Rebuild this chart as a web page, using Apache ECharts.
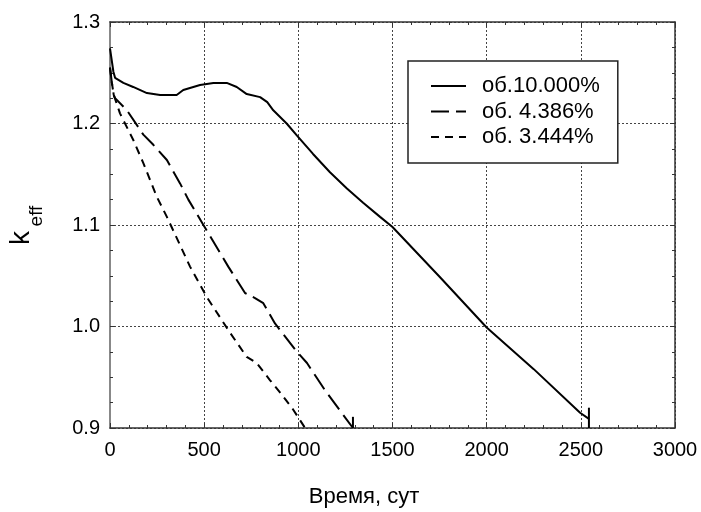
<!DOCTYPE html>
<html>
<head>
<meta charset="utf-8">
<script src="https://cdn.jsdelivr.net/npm/echarts@6/dist/echarts.min.js"></script>
<style>html,body{margin:0;padding:0;background:#fff}#c{width:701px;height:512px}</style>
</head>
<body>
<div id="c"></div>
<script>
// ---- data ----
var names = ['об.10.000%', 'об. 4.386%', 'об. 3.444%'];
var time10 = [0, 18, 27, 71, 123, 196, 266, 354, 389, 478, 549, 620, 673, 726, 797, 835, 867, 938, 993, 1078, 1168, 1258, 1344, 1434, 1500, 1750, 2000, 2250, 2496, 2543];
var k10 = [1.274, 1.251, 1.245, 1.240, 1.236, 1.230, 1.228, 1.228, 1.233, 1.238, 1.240, 1.240, 1.236, 1.229, 1.226, 1.221, 1.213, 1.200, 1.188, 1.170, 1.152, 1.136, 1.122, 1.108, 1.098, 1.049, 0.999, 0.958, 0.915, 0.909];
var time438 = [0, 10, 20, 27, 90, 177, 230, 302, 372, 416, 496, 628, 717, 770, 814, 876, 993, 1046, 1142, 1290];
var k438 = [1.255, 1.240, 1.228, 1.225, 1.213, 1.189, 1.179, 1.164, 1.141, 1.125, 1.100, 1.059, 1.033, 1.028, 1.023, 1.003, 0.975, 0.964, 0.937, 0.900];
var time344 = [0, 10, 20, 53, 123, 177, 248, 302, 425, 514, 637, 726, 779, 850, 912, 973, 1036];
var k344 = [1.255, 1.240, 1.228, 1.210, 1.184, 1.161, 1.128, 1.108, 1.059, 1.029, 0.994, 0.970, 0.964, 0.947, 0.933, 0.918, 0.900];
// end-of-run markers (time, k bottom, k top)
var endTimes = [2543, 1290];
var endBottom = [0.900, 0.900];
var endTop = [0.920, 0.911];
var xTicks = [0, 500, 1000, 1500, 2000, 2500, 3000];
var yTicks = [0.9, 1.0, 1.1, 1.2, 1.3];

function zip(a, b) { return a.map(function (v, i) { return [v, b[i]]; }); }

var FONT = "'Liberation Sans', Arial, sans-serif";
var chart = echarts.init(document.getElementById('c'), null, {renderer: 'canvas'});

function xAx(pos, showLabel) {
  return {
    type: 'value', position: pos, min: xTicks[0], max: xTicks[xTicks.length - 1], interval: 500,
    axisLine: {show: true, onZero: false, lineStyle: {color: '#333', width: 1.5}},
    axisTick: {show: true, inside: true, length: 5, lineStyle: {color: '#333'}},
    minorTick: {show: true, splitNumber: 5, length: 3, lineStyle: {color: '#333'}},
    axisLabel: {show: showLabel, color: '#000', fontSize: 20, fontFamily: FONT, margin: 12,
      formatter: function (v) { return String(v); }},
    splitLine: {show: showLabel, lineStyle: {type: [2, 2], color: '#444', width: 1}},
    minorSplitLine: {show: false}
  };
}
function yAx(pos, showLabel) {
  return {
    type: 'value', position: pos, min: yTicks[0], max: yTicks[yTicks.length - 1], interval: 0.1,
    axisLine: {show: true, onZero: false, lineStyle: {color: pos === 'left' ? '#888' : '#333', width: pos === 'left' ? 2 : 1.5}},
    axisTick: {show: true, inside: true, length: 5, lineStyle: {color: '#333'}},
    minorTick: {show: true, splitNumber: 4, length: 3, lineStyle: {color: '#333'}},
    axisLabel: {show: showLabel, color: '#000', fontSize: 20, fontFamily: FONT, margin: 10,
      formatter: function (v) { return v.toFixed(1); }},
    splitLine: {show: showLabel, lineStyle: {type: [2, 2], color: '#444', width: 1}}
  };
}

var lineBase = {type: 'line', showSymbol: false, symbol: 'none', smooth: false, silent: true, animation: false};
var series = [
  Object.assign({}, lineBase, {name: names[0], data: zip(time10, k10), lineStyle: {color: '#000', width: 2, type: 'solid'}, itemStyle: {color: '#000'}}),
  Object.assign({}, lineBase, {name: names[1], data: zip(time438, k438), lineStyle: {color: '#000', width: 2, type: [18, 7]}, itemStyle: {color: '#000'}}),
  Object.assign({}, lineBase, {name: names[2], data: zip(time344, k344), lineStyle: {color: '#000', width: 2, type: [8, 6]}, itemStyle: {color: '#000'}})
];
endTimes.forEach(function (t, i) {
  series.push(Object.assign({}, lineBase, {name: 'end' + i, data: [[t, endBottom[i]], [t, endTop[i]]], lineStyle: {color: '#000', width: 2}}));
});

chart.setOption({
  animation: false,
  backgroundColor: '#fff',
  grid: {left: 110, right: 26, top: 22, bottom: 84, containLabel: false},
  xAxis: [xAx('bottom', true), xAx('top', false)],
  yAxis: [yAx('left', true), yAx('right', false)],
  legend: {
    data: names, left: 408, top: 61, orient: 'vertical',
    backgroundColor: '#fff', borderColor: '#222', borderWidth: 1.5,
    padding: [13, 18, 14, 22], itemWidth: 35, itemHeight: 14, itemGap: 1.5,
    itemStyle: {opacity: 0},
    textStyle: {fontSize: 22, lineHeight: 24, fontFamily: FONT, color: '#000', padding: [0, 0, 0, 11]},
    selectedMode: false
  },
  graphic: [
    {type: 'text', x: 364, y: 497, silent: true,
      style: {text: 'Время, сут', font: "22px 'Liberation Sans', Arial, sans-serif", fill: '#000', align: 'center', verticalAlign: 'middle'}},
    {type: 'text', x: 21, y: 238, rotation: Math.PI / 2, silent: true,
      style: {text: 'k', font: "28px 'Liberation Sans', Arial, sans-serif", fill: '#000', align: 'center', verticalAlign: 'middle'}},
    {type: 'text', x: 37, y: 216, rotation: Math.PI / 2, silent: true,
      style: {text: 'eff', font: "19px 'Liberation Sans', Arial, sans-serif", fill: '#000', align: 'center', verticalAlign: 'middle'}}
  ],
  series: series
});
</script>
</body>
</html>
